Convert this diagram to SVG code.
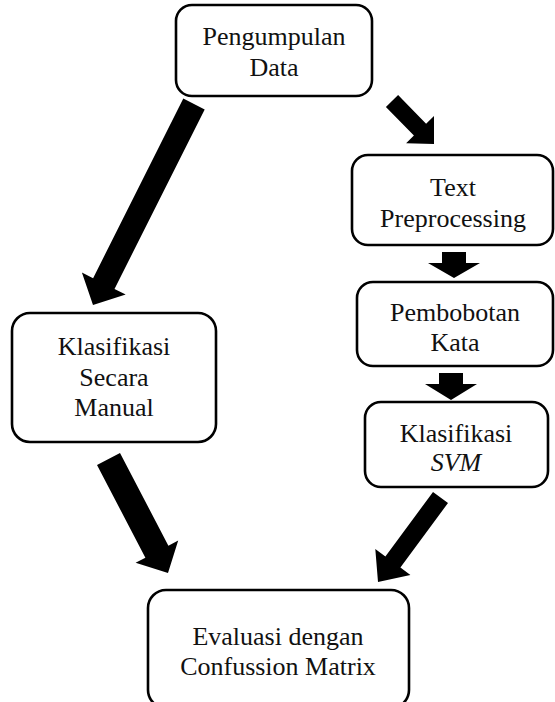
<svg xmlns="http://www.w3.org/2000/svg" width="555" height="702" viewBox="0 0 555 702">
<style>
.box{fill:#fff;stroke:#000;stroke-width:2.6}
.t{font-family:"Liberation Serif","Times New Roman",serif;font-size:26px;fill:#111;text-anchor:middle}
.arr{fill:#000;stroke:none}
</style>
<rect width="555" height="702" fill="#fff"/>
<g id="connectors">
<polygon class="arr" points="183.3,98.6 93.1,278.2 81.9,272.6 93,305 125.7,294.6 114.5,289 204.7,109.4"/>
<polygon class="arr" points="385.9,106.9 413.9,135.6 406.1,143.3 434,144 434,116.1 426.1,123.8 398.1,95.1"/>
<polygon class="arr" points="442,252 466,252 466,263 480,263 454,278 428,263 442,263"/>
<polygon class="arr" points="439,373 463,373 463,384 477,384 451,400 425,384 439,384"/>
<polygon class="arr" points="97,465 145.4,557.7 135.6,562.8 168,573 178.2,540.6 168.4,545.7 120,453"/>
<polygon class="arr" points="433,492 385.4,556.4 375.3,548.9 378,582 410.4,574.9 400.4,567.4 448,503"/>
</g>
<g id="pengumpulan">
<rect class="box" x="176" y="5" width="196" height="91" rx="16"/>
<text class="t" x="274" y="45">Pengumpulan</text>
<text class="t" x="274" y="76">Data</text>
</g>
<g id="preprocessing">
<rect class="box" x="352" y="155" width="201" height="90" rx="16"/>
<text class="t" x="453" y="196">Text</text>
<text class="t" x="453" y="227">Preprocessing</text>
</g>
<g id="pembobotan">
<rect class="box" x="357" y="282" width="196" height="84" rx="16"/>
<text class="t" x="455" y="321">Pembobotan</text>
<text class="t" x="455" y="351">Kata</text>
</g>
<g id="svm">
<rect class="box" x="365" y="402" width="183" height="85" rx="16"/>
<text class="t" x="456" y="442">Klasifikasi</text>
<text class="t" x="456" y="471" font-style="italic">SVM</text>
</g>
<g id="manual">
<rect class="box" x="12" y="313" width="204" height="129" rx="18"/>
<text class="t" x="114" y="355">Klasifikasi</text>
<text class="t" x="114" y="386">Secara</text>
<text class="t" x="114" y="416">Manual</text>
</g>
<g id="evaluasi">
<rect class="box" x="148" y="590" width="261" height="118" rx="18"/>
<text class="t" x="278" y="645">Evaluasi dengan</text>
<text class="t" x="278" y="675">Confussion Matrix</text>
</g>
</svg>
